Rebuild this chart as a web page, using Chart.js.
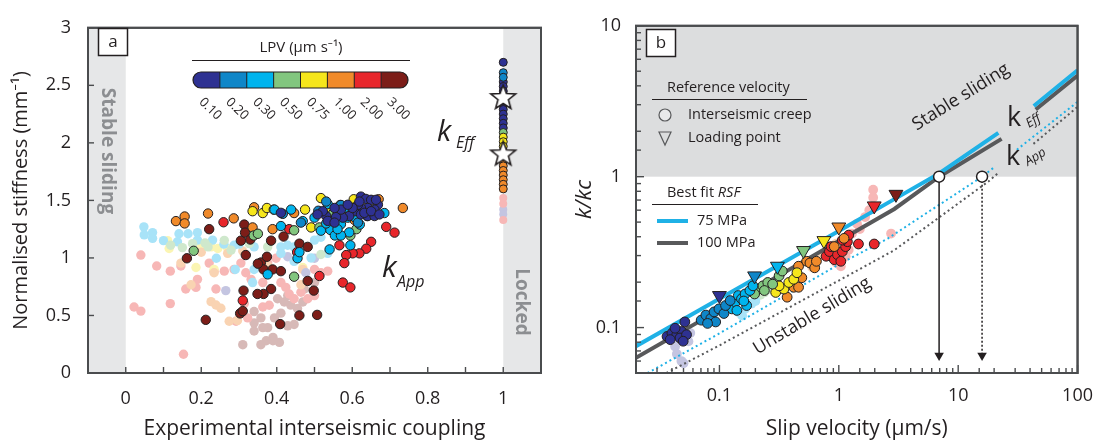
<!DOCTYPE html>
<html>
<head>
<meta charset="utf-8">
<title>Stiffness vs coupling</title>
<script src="https://cdn.jsdelivr.net/npm/chart.js@4.4.1/dist/chart.umd.min.js"></script>
<style>
  html, body { margin: 0; padding: 0; background: #fff; }
  #fig { position: relative; width: 1105px; height: 443px; overflow: hidden; }
  #chartA { position: absolute; left: 0; top: 0; width: 560px; height: 443px; }
  #chartB { position: absolute; left: 560px; top: 0; width: 545px; height: 443px; }
</style>
</head>
<body>
<div id="fig">
  <canvas id="chartA" width="560" height="443"></canvas>
  <canvas id="chartB" width="545" height="443"></canvas>
</div>
<script>
// ---- LPV classes (colour bar) ----
const lpvLabels = ['0.10', '0.20', '0.30', '0.50', '0.75', '1.00', '2.00', '3.00'];
const lpvColors = ['#2e3192', '#0f86c8', '#00b4ee', '#82c67f', '#f6e61c', '#f08a2a', '#e8262b', '#7c1d18'];
const lpvFaded  = ['#c4c5e1', '#a9d6ef', '#a8e3f8', '#cfe8cc', '#fbf5b3', '#f9d3b2', '#f7b7b6', '#d7b9b7'];

// ---- panel a : apparent stiffness vs coupling  [coupling, stiffness] ----
const appBlue10 = [[0.623,1.533],[0.636,1.513],[0.65,1.505],[0.668,1.462],[0.659,1.42],[0.641,1.434],[0.623,1.434],[0.606,1.406],[0.592,1.364],[0.575,1.35],[0.557,1.355],[0.531,1.364],[0.522,1.406],[0.508,1.378],[0.623,1.378],[0.641,1.364],[0.659,1.364],[0.632,1.392],[0.615,1.462],[0.601,1.434],[0.65,1.406],[0.535,1.322],[0.553,1.307],[0.57,1.42],[0.588,1.462],[0.619,1.49],[0.672,1.378],[0.663,1.505],[0.553,1.434],[0.411,1.392]];
const appBlue20 = [[0.416,1.383],[0.531,1.49],[0.464,1.307],[0.51,1.41],[0.57,1.46],[0.639,1.364],[0.615,1.307]];
const appCyan30 = [[0.394,1.42],[0.438,1.42],[0.411,1.277],[0.455,0.997],[0.376,0.857],[0.54,1.074],[0.595,1.11],[0.542,1.243],[0.554,1.195],[0.517,1.237],[0.57,1.293],[0.588,1.35],[0.561,1.378],[0.592,1.222],[0.579,1.434],[0.535,1.468],[0.531,1.30],[0.685,1.39],[0.608,1.35],[0.57,1.195],[0.561,1.25],[0.50,1.35],[0.469,1.32],[0.46,1.05],[0.62,1.29]];
const appGreen50 = [[0.339,1.195],[0.18,1.062],[0.446,0.837],[0.513,1.265],[0.595,1.195],[0.611,1.25],[0.568,1.46],[0.446,1.24],[0.55,1.39],[0.35,1.21]];
const appYellow75 = [[0.336,1.406],[0.363,1.39],[0.374,1.434],[0.392,1.42],[0.517,1.52],[0.542,1.41],[0.604,1.51],[0.475,1.42],[0.491,1.265]];
const appOrange100 = [[0.133,1.32],[0.156,1.36],[0.156,1.30],[0.218,1.386],[0.286,1.344],[0.336,1.265],[0.389,1.25],[0.734,1.434],[0.67,1.51],[0.446,1.39],[0.606,1.33],[0.34,1.44]];
const appRed200 = [[0.259,1.31],[0.69,1.27],[0.712,1.22],[0.65,1.14],[0.637,1.08],[0.619,1.04],[0.601,1.04],[0.584,1.025],[0.579,0.955],[0.575,0.786],[0.595,0.744],[0.566,1.11],[0.513,0.843],[0.31,0.63],[0.454,1.05],[0.433,1.25]];
const appDark300 = [[0.162,0.997],[0.221,1.25],[0.314,1.29],[0.305,1.15],[0.316,1.22],[0.318,1.025],[0.358,0.96],[0.374,1.01],[0.365,0.90],[0.389,0.90],[0.411,0.885],[0.385,0.73],[0.365,0.687],[0.349,0.687],[0.312,0.716],[0.303,0.518],[0.31,0.538],[0.212,0.462],[0.409,0.425],[0.46,0.50],[0.507,0.505],[0.482,0.80],[0.498,0.716],[0.46,1.124],[0.482,1.096],[0.385,1.15],[0.418,1.186],[0.33,1.16],[0.35,0.95]];

// faded (other runs)
const fadeBlue10 = [[0.265,0.716],[0.477,0.871],[0.429,1.01],[0.5,0.997]];
const fadeCyan30 = [[0.048,1.27],[0.071,1.22],[0.049,1.2],[0.071,1.17],[0.137,1.14],[0.141,1.21],[0.165,1.21],[0.19,1.22],[0.19,1.155],[0.23,1.155],[0.24,0.997],[0.287,1.11],[0.29,0.9],[0.34,0.9],[0.34,1.096],[0.336,0.786],[0.411,1.04],[0.429,1.11],[0.446,1.096],[0.446,0.97],[0.491,1.0],[0.5,1.155],[0.517,1.18],[0.535,1.04],[0.411,1.096],[0.3,1.12],[0.26,1.12],[0.1,1.15]];
const fadeGreen50 = [[0.119,1.11],[0.177,1.124],[0.261,1.153],[0.327,1.124],[0.376,1.096],[0.279,1.068],[0.517,1.03],[0.218,1.096],[0.21,1.13],[0.15,1.09]];
const fadeYellow75 = [[0.115,1.082],[0.186,0.917],[0.226,1.096],[0.244,1.082],[0.27,1.082],[0.469,0.917],[0.234,0.9],[0.2,1.1],[0.111,1.15]];
const fadeOrange100 = [[0.146,0.955],[0.173,0.767],[0.234,0.871],[0.226,0.62],[0.239,0.591],[0.252,0.563],[0.274,0.45],[0.296,0.456],[0.27,1.04],[0.464,0.767],[0.469,0.9],[0.376,0.93],[0.2,1.05],[0.31,1.06]];
const fadeRed200 = [[0.04,1.025],[0.082,0.93],[0.118,0.885],[0.146,0.93],[0.186,0.744],[0.159,0.73],[0.022,0.574],[0.04,0.538],[0.118,0.603],[0.153,0.163],[0.221,0.955],[0.234,0.885],[0.261,0.885],[0.287,0.9],[0.305,0.955],[0.318,0.871],[0.332,0.814],[0.363,0.786],[0.376,0.955],[0.398,0.997],[0.411,0.786],[0.424,0.744],[0.433,0.687],[0.446,0.645],[0.464,0.702],[0.482,0.645],[0.5,0.673],[0.517,0.871],[0.535,0.885],[0.5,0.9],[0.363,0.574],[0.38,0.589],[0.314,0.603],[0.323,0.479],[0.292,0.45],[0.239,0.73],[0.19,0.814]];
const fadeDark300 = [[0.358,0.479],[0.376,0.394],[0.39,0.31],[0.407,0.266],[0.394,0.479],[0.429,0.41],[0.411,0.52],[0.446,0.422],[0.34,0.365],[0.363,0.394],[0.31,0.246],[0.358,0.246],[0.39,0.28],[0.469,0.617],[0.455,0.56],[0.437,0.59],[0.42,0.617],[0.402,0.645],[0.429,0.673],[0.473,0.73],[0.5,0.786],[0.34,0.436],[0.34,0.534],[0.372,0.28]];

// effective stiffness: fully locked column (coupling = 1)
const effCoupling = 1;
const effBlue10 = [2.70, 2.53, 2.49, 2.45, 2.41, 2.37, 2.33, 2.29, 2.25, 2.21, 2.17, 2.13];
const effBlue20 = [2.61, 2.57];
const effGreen50 = [2.09];
const effYellow75 = [2.05, 2.01, 1.97];
const effOrange100 = [1.87, 1.84, 1.80, 1.76, 1.72, 1.68, 1.64, 1.60];
const effFadedRed = [1.52, 1.47, 1.33];
const effFadedBlue = [1.42, 1.38];
const effStars = [2.39, 1.90];

// ---- panel b : k/kc vs slip velocity  [velocity µm/s, k/kc] ----
const creepBlue10 = [[0.0364,0.0874],[0.040,0.0918],[0.0439,0.0897],[0.0482,0.0942],[0.0513,0.109],[0.0467,0.0853],[0.053,0.0897],[0.0425,0.099],[0.0387,0.0832],[0.0497,0.0812]];
const creepBlue20 = [[0.0703,0.112],[0.077,0.121],[0.0847,0.115],[0.0902,0.127],[0.099,0.133],[0.093,0.109],[0.109,0.124],[0.1125,0.14],[0.0795,0.1066],[0.123,0.151]];
const creepCyan30 = [[0.127,0.133],[0.136,0.1475],[0.144,0.163],[0.153,0.155],[0.164,0.167],[0.169,0.14],[0.18,0.176],[0.14,0.13],[0.191,0.189],[0.16,0.15]];
const creepGreen50 = [[0.21,0.18],[0.231,0.189],[0.254,0.199],[0.279,0.194],[0.316,0.22],[0.336,0.237],[0.197,0.167],[0.238,0.176]];
const creepYellow75 = [[0.296,0.171],[0.347,0.18],[0.381,0.199],[0.419,0.209],[0.446,0.231],[0.316,0.189]];
const creepOrange100 = [[0.369,0.159],[0.419,0.185],[0.46,0.185],[0.446,0.22],[0.49,0.214],[0.46,0.255],[0.538,0.275],[0.573,0.268],[0.628,0.249],[0.649,0.275],[1.106,0.39],[0.916,0.344]];
const creepRed200 = [[0.783,0.297],[0.834,0.319],[0.861,0.344],[0.916,0.282],[0.975,0.304],[1.04,0.275],[1.07,0.319],[1.14,0.344],[1.18,0.371],[1.21,0.41],[1.07,0.38],[1.46,0.358],[1.98,0.358]];
const creepFadeBlue = [[0.0425,0.075],[0.048,0.06],[0.044,0.0668],[0.0364,0.085],[0.055,0.081],[0.057,0.092],[0.05,0.058]];
const creepFadeCyan = [[0.127,0.1475],[0.144,0.127],[0.164,0.133],[0.185,0.144],[0.1125,0.133],[0.093,0.127],[0.2,0.15],[0.155,0.12]];
const creepFadeGreen = [[0.238,0.171],[0.22,0.165],[0.26,0.18],[0.3,0.2]];
const creepFadeOrange = [[0.7,0.3],[0.85,0.32],[0.6,0.25],[0.95,0.36]];
const creepFadeRed = [[1.94,0.82],[1.94,0.727],[1.66,0.54],[1.42,0.488],[1.29,0.42],[1.14,0.297],[1.04,0.255],[2.74,0.42],[1.21,0.328],[1.5,0.45],[1.8,0.6],[0.95,0.27],[1.1,0.36]];

// loading points (one per LPV class)
const loadV = [0.1, 0.197, 0.306, 0.506, 0.75, 1.0, 1.98, 3.01];
const loadK = [0.163, 0.22, 0.255, 0.324, 0.377, 0.464, 0.64, 0.764];

// best-fit RSF curves (null = label gap)
const effV75  = [0.02, 0.1, 1, 2.92, 6.92, 21.7, 30, 43, 100];
const effK75  = [0.0753, 0.155, 0.437, 0.71, 1.05, 1.95, null, 2.94, 5.08];
const effV100 = [0.02, 0.1, 1, 2.92, 6.92, 23.1, 32, 44.6, 100];
const effK100 = [0.063, 0.131, 0.375, 0.611, 1.0, 1.78, null, 2.79, 4.68];
const appV75  = [0.025, 0.1, 1, 2.57, 15.85, 19.9, 25, 31, 100];
const appK75  = [0.05, 0.0914, 0.262, 0.389, 1.0, 1.15, null, 1.51, 3.13];
const appV100 = [0.036, 0.1, 1, 2.92, 18, 22, 30, 42.7, 100];
const appK100 = [0.05, 0.0762, 0.205, 0.326, 0.933, 1.07, null, 1.65, 2.9];

// stability transition (k/kc = 1) and arrow ends
const critV = [6.92, 15.85];
const critK = 1;
const arrowEndK = 0.0653;

// ---------------------------------------------------------------
const FONT = "'Open Sans', 'Noto Sans', sans-serif";
const INK = '#231f20';
const FRAME = '#4a4c4e';
Chart.defaults.font.family = FONT;
Chart.defaults.color = INK;

const toPts = arr => arr.map(p => ({ x: p[0], y: p[1] }));
const colPts = ys => ys.map(y => ({ x: effCoupling, y }));
const zip = (xs, ys) => xs.map((x, i) => ({ x, y: ys[i] }));
const isDecade = v => Math.abs(Math.log10(v) - Math.round(Math.log10(v))) < 1e-6;

function starImage(outer, inner) {
  const c = document.createElement('canvas');
  const s = Math.ceil(outer * 2 + 4);
  c.width = s; c.height = s;
  const g = c.getContext('2d');
  g.beginPath();
  for (let i = 0; i < 10; i++) {
    const r = i % 2 ? inner : outer;
    const a = -Math.PI / 2 + i * Math.PI / 5;
    g.lineTo(s / 2 + r * Math.cos(a), s / 2 + r * Math.sin(a));
  }
  g.closePath();
  g.fillStyle = '#fff'; g.fill();
  g.lineWidth = 1.6; g.strokeStyle = INK; g.stroke();
  return c;
}

function dots(data, color, order, radius, faded) {
  return {
    data, order,
    pointRadius: radius,
    pointBackgroundColor: color,
    pointBorderColor: faded ? color : INK,
    pointBorderWidth: faded ? 0 : 1
  };
}

function inwardTicks(chart, id, majorTest, majorLen, minorLen) {
  const sc = chart.scales[id];
  const { ctx, chartArea: a } = chart;
  ctx.save();
  ctx.strokeStyle = FRAME;
  ctx.lineWidth = 1.4;
  sc.ticks.forEach(t => {
    const len = majorTest(t.value) ? majorLen : minorLen;
    const p = sc.getPixelForValue(t.value);
    ctx.beginPath();
    if (sc.isHorizontal()) { ctx.moveTo(p, a.bottom); ctx.lineTo(p, a.bottom - len); }
    else { ctx.moveTo(a.left, p); ctx.lineTo(a.left + len, p); }
    ctx.stroke();
  });
  ctx.lineWidth = 2;
  ctx.strokeRect(a.left, a.top, a.right - a.left, a.bottom - a.top);
  ctx.restore();
}

function text(ctx, str, x, y, font, opts = {}) {
  ctx.save();
  ctx.translate(x, y);
  if (opts.rot) ctx.rotate(opts.rot * Math.PI / 180);
  ctx.font = font;
  ctx.fillStyle = opts.color || INK;
  ctx.textAlign = opts.align || 'left';
  ctx.textBaseline = opts.base || 'alphabetic';
  ctx.fillText(str, 0, 0);
  ctx.restore();
}

function labelBox(ctx, letter, x, y) {
  ctx.save();
  ctx.fillStyle = '#fff';
  ctx.fillRect(x, y, 29, 27);
  ctx.strokeStyle = INK; ctx.lineWidth = 1.5;
  ctx.strokeRect(x, y, 29, 27);
  ctx.restore();
  text(ctx, letter, x + 14.5, y + 14, '17px ' + FONT, { align: 'center', base: 'middle' });
}

// ---------------- panel a ----------------
const bandsA = {
  id: 'bandsA',
  beforeDatasetsDraw(chart) {
    const { ctx, chartArea: a, scales: { x } } = chart;
    ctx.save();
    ctx.fillStyle = '#e6e7e8';
    ctx.fillRect(a.left, a.top, x.getPixelForValue(0) - a.left, a.bottom - a.top);
    const x1 = x.getPixelForValue(1);
    ctx.fillRect(x1, a.top, a.right - x1, a.bottom - a.top);
    ctx.restore();
    text(ctx, 'Stable sliding', 107, 151, 'bold 19px ' + FONT, { rot: 90, align: 'center', base: 'middle', color: '#8c8e91' });
    text(ctx, 'Locked', 521, 302, 'bold 19px ' + FONT, { rot: 90, align: 'center', base: 'middle', color: '#8c8e91' });
  },
  afterDatasetsDraw(chart) {
    const ctx = chart.ctx;
    inwardTicks(chart, 'x', () => true, 6, 6);
    inwardTicks(chart, 'y', () => true, 6, 6);
    labelBox(ctx, 'a', 98.5, 28.5);

    // LPV colour bar
    text(ctx, 'LPV (µm s⁻¹)', 301, 48, '15px ' + FONT, { align: 'center', base: 'middle' });
    ctx.save();
    ctx.strokeStyle = INK; ctx.lineWidth = 1.2;
    ctx.beginPath(); ctx.moveTo(192, 60.5); ctx.lineTo(410, 60.5); ctx.stroke();
    const x0 = 193, y0 = 72, w = 215, h = 16, sw = w / lpvColors.length;
    ctx.save();
    ctx.beginPath(); ctx.roundRect(x0, y0, w, h, h / 2); ctx.clip();
    lpvColors.forEach((c, i) => { ctx.fillStyle = c; ctx.fillRect(x0 + i * sw, y0, sw + 0.5, h); });
    ctx.lineWidth = 1;
    for (let i = 1; i < lpvColors.length; i++) {
      ctx.beginPath(); ctx.moveTo(x0 + i * sw, y0); ctx.lineTo(x0 + i * sw, y0 + h); ctx.stroke();
    }
    ctx.restore();
    ctx.beginPath(); ctx.roundRect(x0, y0, w, h, h / 2); ctx.stroke();
    ctx.restore();
    lpvLabels.forEach((lab, i) => {
      text(ctx, lab, x0 + i * sw + 8, 100, '13px ' + FONT, { rot: 44, base: 'middle' });
    });

    // k labels
    text(ctx, 'k', 437, 141, 'italic 29px ' + FONT);
    text(ctx, 'Eff', 456, 148, 'italic 16px ' + FONT);
    text(ctx, 'k', 382, 277, 'italic 30px ' + FONT);
    text(ctx, 'App', 397, 287, 'italic 16px ' + FONT);
  }
};

const RA = 4.7;
const datasetsA = [
  dots(toPts(fadeRed200), lpvFaded[6], 30, RA, true),
  dots(toPts(fadeDark300), lpvFaded[7], 30, RA, true),
  dots(toPts(fadeOrange100), lpvFaded[5], 29, RA, true),
  dots(toPts(fadeYellow75), lpvFaded[4], 29, RA, true),
  dots(toPts(fadeGreen50), lpvFaded[3], 28, RA, true),
  dots(toPts(fadeCyan30), lpvFaded[2], 28, RA, true),
  dots(toPts(fadeBlue10), lpvFaded[0], 28, RA, true),
  dots(toPts(appDark300), lpvColors[7], 12, RA),
  dots(toPts(appRed200), lpvColors[6], 11, RA),
  dots(toPts(appOrange100), lpvColors[5], 10, RA),
  dots(toPts(appYellow75), lpvColors[4], 9, RA),
  dots(toPts(appGreen50), lpvColors[3], 8, RA),
  dots(toPts(appCyan30), lpvColors[2], 7, RA),
  dots(toPts(appBlue20), lpvColors[1], 6, RA),
  dots(toPts(appBlue10), lpvColors[0], 5, RA),
  dots(colPts(effFadedRed), lpvFaded[6], 4, 4, true),
  dots(colPts(effFadedBlue), lpvFaded[0], 4, 4, true),
  dots(colPts(effOrange100), lpvColors[5], 3, 4),
  dots(colPts(effYellow75), lpvColors[4], 3, 4),
  dots(colPts(effGreen50), lpvColors[3], 3, 4),
  dots(colPts(effBlue10), lpvColors[0], 3, 4),
  dots(colPts(effBlue20), lpvColors[1], 2, 4),
  { data: colPts(effStars), order: 0, pointStyle: starImage(13, 5.5), pointRadius: 13 }
];

new Chart(document.getElementById('chartA'), {
  type: 'scatter',
  data: { datasets: datasetsA },
  plugins: [bandsA],
  options: {
    responsive: false,
    animation: false,
    events: [],
    layout: { padding: { top: 18, right: 19, left: 0, bottom: 0 } },
    plugins: { legend: { display: false }, tooltip: { enabled: false } },
    scales: {
      x: {
        type: 'linear', min: -0.1, max: 1.1,
        afterFit: s => { s.height = 70; },
        grid: { display: false, drawTicks: false },
        border: { display: false },
        ticks: {
          stepSize: 0.1, padding: 15, autoSkip: false, maxRotation: 0,
          font: { size: 18 }, color: INK,
          callback: v => { const r = Math.round(v * 10); return (r >= 0 && r % 2 === 0) ? String(+v.toFixed(1)) : ''; }
        },
        title: { display: true, text: 'Experimental interseismic coupling', font: { size: 21 }, color: INK, padding: { top: 0, bottom: 1 } }
      },
      y: {
        type: 'linear', min: 0, max: 3,
        afterFit: s => { s.width = 88; },
        grid: { display: false, drawTicks: false },
        border: { display: false },
        ticks: { stepSize: 0.5, padding: 17, font: { size: 18 }, color: INK, callback: v => String(v) },
        title: { display: true, text: 'Normalised stiffness (mm⁻¹)', font: { size: 20 }, color: INK, padding: { top: 9, bottom: 0 } }
      }
    }
  }
});

// ---------------- panel b ----------------
const OFF_B = 560;

const bandsB = {
  id: 'bandsB',
  beforeDatasetsDraw(chart) {
    const { ctx, chartArea: a, scales: { y } } = chart;
    const y1 = y.getPixelForValue(critK);
    ctx.save();
    ctx.fillStyle = '#dcddde';
    ctx.fillRect(a.left, a.top, a.right - a.left, y1 - a.top);
    ctx.restore();
    ctx.save();
    ctx.translate(-OFF_B, 0);
    text(ctx, 'Stable sliding', 961, 97, '18px ' + FONT, { rot: -32, align: 'center', base: 'middle' });
    text(ctx, 'Unstable sliding', 812, 316, '18px ' + FONT, { rot: -31, align: 'center', base: 'middle' });
    ctx.restore();
  },
  afterDatasetsDraw(chart) {
    const ctx = chart.ctx;
    inwardTicks(chart, 'x', isDecade, 8, 5);
    inwardTicks(chart, 'y', isDecade, 8, 5);
    ctx.save();
    ctx.translate(-OFF_B, 0);
    labelBox(ctx, 'b', 646.5, 29.5);

    // legend: reference velocity
    text(ctx, 'Reference velocity', 667, 88, '14.5px ' + FONT, { base: 'middle' });
    ctx.strokeStyle = INK; ctx.lineWidth = 1.2;
    ctx.beginPath(); ctx.moveTo(652, 99.5); ctx.lineTo(807, 99.5); ctx.stroke();
    ctx.fillStyle = '#e9e9ea'; ctx.strokeStyle = '#58595b'; ctx.lineWidth = 1.2;
    ctx.beginPath(); ctx.arc(665, 115, 6, 0, Math.PI * 2); ctx.fill(); ctx.stroke();
    ctx.beginPath(); ctx.moveTo(659, 132); ctx.lineTo(671, 132); ctx.lineTo(665, 145); ctx.closePath(); ctx.stroke();
    text(ctx, 'Interseismic creep', 688, 115, '14.5px ' + FONT, { base: 'middle' });
    text(ctx, 'Loading point', 688, 138, '14.5px ' + FONT, { base: 'middle' });

    // legend: best fit RSF
    ctx.font = '14.5px ' + FONT;
    const wBest = ctx.measureText('Best fit ').width;
    text(ctx, 'Best fit ', 667, 193, '14.5px ' + FONT, { base: 'middle' });
    text(ctx, 'RSF', 667 + wBest, 193, 'italic 14.5px ' + FONT, { base: 'middle' });
    ctx.strokeStyle = INK; ctx.lineWidth = 1.2;
    ctx.beginPath(); ctx.moveTo(652, 204.5); ctx.lineTo(758, 204.5); ctx.stroke();
    ctx.lineWidth = 4;
    ctx.strokeStyle = '#1fb1e6';
    ctx.beginPath(); ctx.moveTo(657, 221); ctx.lineTo(688, 221); ctx.stroke();
    ctx.strokeStyle = '#58595b';
    ctx.beginPath(); ctx.moveTo(657, 243); ctx.lineTo(688, 243); ctx.stroke();
    text(ctx, '75 MPa', 697, 221, '14.5px ' + FONT, { base: 'middle' });
    text(ctx, '100 MPa', 697, 243, '14.5px ' + FONT, { base: 'middle' });

    // k labels on the curves
    text(ctx, 'k', 1007, 126, '27px ' + FONT);
    text(ctx, 'Eff', 1029, 128, 'italic 13px ' + FONT, { rot: -32 });
    text(ctx, 'k', 1006, 165, '27px ' + FONT);
    text(ctx, 'App', 1028, 166, 'italic 13px ' + FONT, { rot: -32 });
    ctx.restore();
  }
};

const curve = (xs, ys, color, width, dash, order) => ({
  data: zip(xs, ys), order, showLine: true, spanGaps: false, tension: 0,
  borderColor: color, borderWidth: width, borderDash: dash, pointRadius: 0, borderCapStyle: 'butt'
});

const RB = 4.9;
const datasetsB = [
  dots(toPts(creepFadeBlue), lpvFaded[0], 30, RB, true),
  dots(toPts(creepFadeCyan), lpvFaded[2], 30, RB, true),
  dots(toPts(creepFadeGreen), lpvFaded[3], 30, RB, true),
  dots(toPts(creepFadeOrange), lpvFaded[5], 30, RB, true),
  dots(toPts(creepFadeRed), lpvFaded[6], 30, RB, true),
  curve(appV100, appK100, '#58595b', 2, [2, 3], 22),
  curve(appV75, appK75, '#1fb1e6', 2, [2, 3], 21),
  curve(effV100, effK100, '#58595b', 4, [], 20),
  curve(effV75, effK75, '#1fb1e6', 4, [], 19),
  dots(toPts(creepRed200), lpvColors[6], 12, RB),
  dots(toPts(creepOrange100), lpvColors[5], 11, RB),
  dots(toPts(creepYellow75), lpvColors[4], 10, RB),
  dots(toPts(creepGreen50), lpvColors[3], 9, RB),
  dots(toPts(creepCyan30), lpvColors[2], 8, RB),
  dots(toPts(creepBlue20), lpvColors[1], 7, RB),
  dots(toPts(creepBlue10), lpvColors[0], 6, RB),
  {
    data: zip(loadV, loadK), order: 3, pointStyle: 'triangle', rotation: 180, pointRadius: 8,
    pointBackgroundColor: lpvColors, pointBorderColor: INK, pointBorderWidth: 1
  },
  {
    data: [{ x: critV[0], y: critK }, { x: critV[0], y: arrowEndK }], order: 2, showLine: true,
    borderColor: INK, borderWidth: 1.5, pointStyle: 'triangle', rotation: 180,
    pointRadius: [0, 5.5], pointBackgroundColor: INK, pointBorderColor: INK, pointBorderWidth: 0
  },
  {
    data: [{ x: critV[1], y: critK }, { x: critV[1], y: arrowEndK }], order: 2, showLine: true,
    borderColor: INK, borderWidth: 1.5, borderDash: [2, 2], pointStyle: 'triangle', rotation: 180,
    pointRadius: [0, 5.5], pointBackgroundColor: INK, pointBorderColor: INK, pointBorderWidth: 0
  },
  {
    data: critV.map(v => ({ x: v, y: critK })), order: 0, pointRadius: 5.5,
    pointBackgroundColor: '#fff', pointBorderColor: INK, pointBorderWidth: 1.5
  }
];

new Chart(document.getElementById('chartB'), {
  type: 'scatter',
  data: { datasets: datasetsB },
  plugins: [bandsB],
  options: {
    responsive: false,
    animation: false,
    events: [],
    layout: { padding: { top: 18, right: 17, left: 0, bottom: 0 } },
    plugins: { legend: { display: false }, tooltip: { enabled: false } },
    scales: {
      x: {
        type: 'logarithmic', min: 0.02, max: 100,
        afterFit: s => { s.height = 70; },
        grid: { display: false, drawTicks: false },
        border: { display: false },
        ticks: {
          padding: 12, autoSkip: false, maxRotation: 0, font: { size: 18 }, color: INK,
          callback: v => isDecade(v) ? String(+v.toPrecision(3)) : ''
        },
        title: { display: true, text: 'Slip velocity (µm/s)', font: { size: 21 }, color: INK, padding: { top: 0, bottom: 1 } }
      },
      y: {
        type: 'logarithmic', min: 0.05, max: 10,
        afterFit: s => { s.width = 76; },
        grid: { display: false, drawTicks: false },
        border: { display: false },
        ticks: {
          padding: 15, autoSkip: false, font: { size: 18 }, color: INK,
          callback: v => isDecade(v) ? String(+v.toPrecision(3)) : ''
        },
        title: { display: true, text: 'k/kc', font: { size: 22, style: 'italic' }, color: INK, padding: { top: 12, bottom: 0 } }
      }
    }
  }
});
</script>
</body>
</html>
